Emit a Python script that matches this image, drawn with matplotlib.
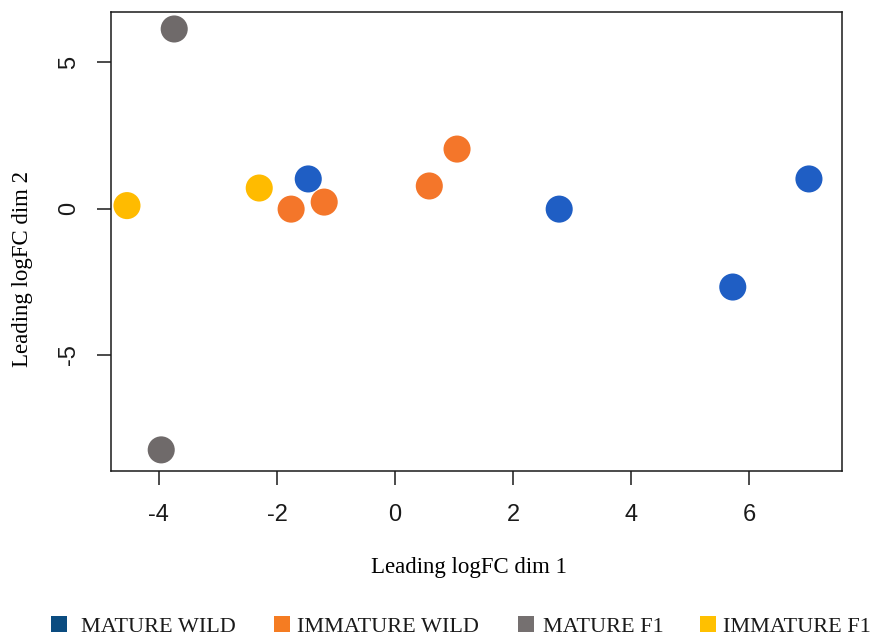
import matplotlib
matplotlib.use("Agg")
import matplotlib.pyplot as plt
from matplotlib.patches import Rectangle

# Data
groups = ["MATURE WILD", "IMMATURE WILD", "MATURE F1", "IMMATURE F1"]
point_colors = ["#1f5ec4", "#f4762a", "#6f6a6a", "#ffbb00"]
legend_colors = ["#0b4c80", "#f57c22", "#757070", "#ffc000"]

mature_wild_x = [-1.47, 2.78, 5.72, 7.01]
mature_wild_y = [1.01, -0.02, -2.68, 1.01]
immature_wild_x = [-1.76, -1.20, 0.58, 1.05]
immature_wild_y = [-0.02, 0.22, 0.77, 2.03]
mature_f1_x = [-3.74, -3.96]
mature_f1_y = [6.13, -8.24]
immature_f1_x = [-4.54, -2.30]
immature_f1_y = [0.10, 0.70]

xs = [mature_wild_x, immature_wild_x, mature_f1_x, immature_f1_x]
ys = [mature_wild_y, immature_wild_y, mature_f1_y, immature_f1_y]

x_ticks = [-4, -2, 0, 2, 4, 6]
y_ticks = [-5, 0, 5]

W, H = 875, 638
fig = plt.figure(figsize=(W / 100, H / 100), dpi=100)
ax = fig.add_axes([0.1269, 0.2618, 0.8354, 0.7194])

for gx, gy, c in zip(xs, ys, point_colors):
    ax.scatter(gx, gy, s=380, color=c, edgecolors="none", zorder=3)

ax.set_xlim(-4.81, 7.57)
ax.set_ylim(-8.96, 6.71)
ax.set_xticks(x_ticks)
ax.set_yticks(y_ticks)
ax.set_xticklabels([str(t) for t in x_ticks], fontfamily="Liberation Sans", fontsize=17)
ax.set_yticklabels([str(t) for t in y_ticks], fontfamily="Liberation Sans", fontsize=17,
                   rotation=90, va="center")
ax.tick_params(axis="x", length=10, width=1.1, pad=14, colors="#1a1a1a")
ax.tick_params(axis="y", length=10, width=1.1, pad=12, colors="#1a1a1a")
for sp in ax.spines.values():
    sp.set_linewidth(1.1)
    sp.set_color("#1a1a1a")

ax.set_xlabel("Leading logFC dim 1", fontfamily="Liberation Serif", fontsize=16.5)
ax.set_ylabel("Leading logFC dim 2", fontfamily="Liberation Serif", fontsize=16.5)
ax.xaxis.set_label_coords(0.49, -0.187)
ax.yaxis.set_label_coords(-0.1067, 0.44)

# Legend row below the plot (manual layout)
square_left = [51, 274, 518, 700]
text_left = [81, 297, 543, 723]
baseline = 632
for sl, tl, name, c in zip(square_left, text_left, groups, legend_colors):
    fig.patches.append(Rectangle((sl / W, 1 - baseline / H), 16 / W, 16 / H,
                                 transform=fig.transFigure, facecolor=c,
                                 edgecolor="none"))
    fig.text(tl / W, 1 - baseline / H, name, ha="left", va="baseline",
             fontfamily="Liberation Serif", fontsize=16, color="#1a1a1a")

fig.savefig("out.png", dpi=100)
